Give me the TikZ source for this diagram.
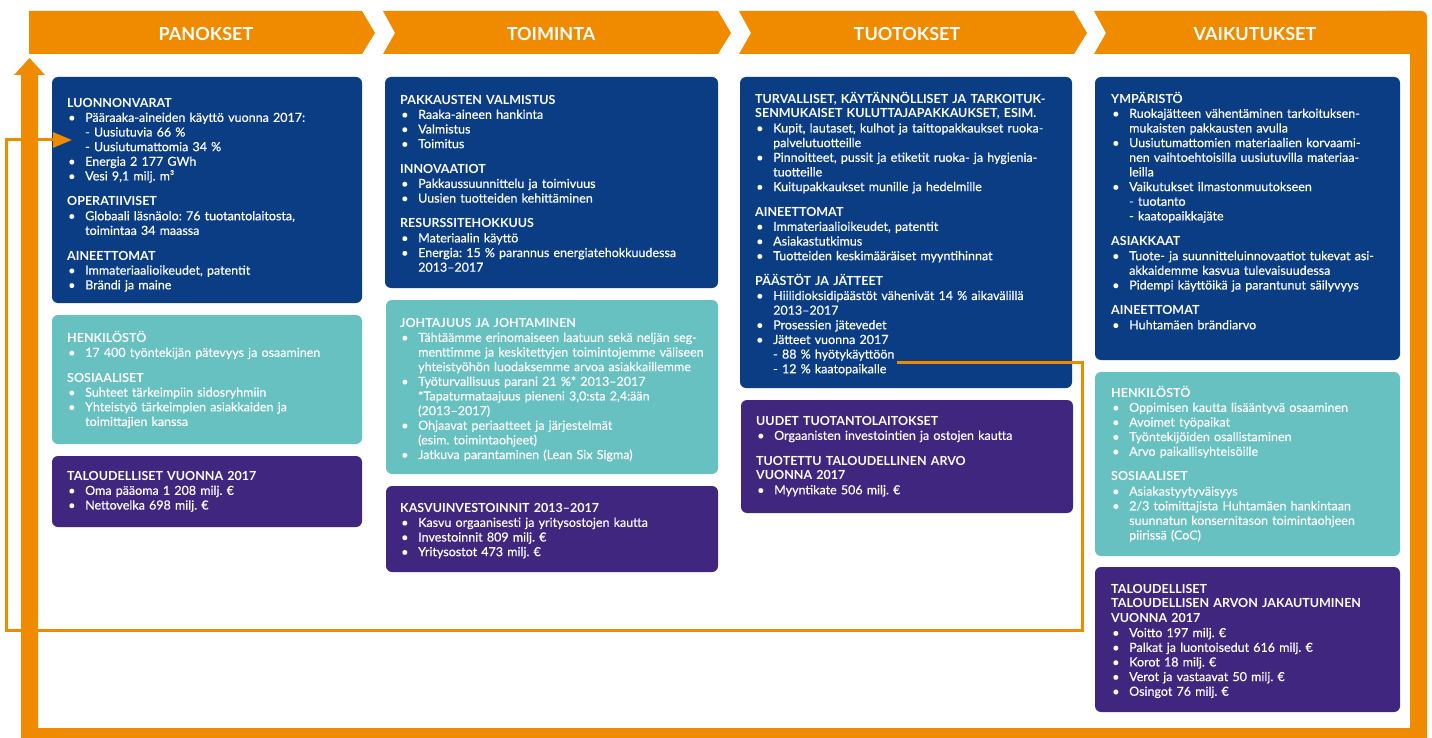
\documentclass[tikz,border=0pt]{standalone}
\usepackage{fontspec}
\setmainfont{Lato}[UprightFeatures={FakeBold=0.4}]
\usetikzlibrary{arrows.meta}
\frenchspacing
\definecolor{corange}{RGB}{240,139,0}
\definecolor{cblue}{RGB}{11,61,133}
\definecolor{cteal}{RGB}{103,193,192}
\definecolor{cpurple}{RGB}{64,38,127}
\newcommand\hd[1]{\noindent\mbox{\bfseries #1}\par}
\newcommand\bl[1]{\noindent\hbox to 18pt{\hskip1pt\textbullet\hss}\mbox{#1}\par}
\newcommand\cl[1]{\noindent\hskip18pt\mbox{#1}\par}
\newcommand\sg{\vskip10.5pt}
\newcommand\tst{\rule{0pt}{12pt}}
\tikzset{
  box/.style={rounded corners=6pt, draw=none, anchor=north west, inner sep=0pt, outer sep=0pt},
  txt/.style={anchor=north west, inner sep=0pt, text=white, text width=340pt, align=left,
    font=\fontsize{12.5}{14.65}\selectfont\frenchspacing},
  hdr/.style={text=white, inner sep=0pt, font=\fontsize{18}{20}\selectfont\bfseries},
  fb/.style={draw=corange, line width=3pt},
}
\begin{document}
\begin{tikzpicture}[x=1pt,y=-1pt]
\useasboundingbox (0,0) rectangle (1432,738);
% orange frame
\fill[corange] (29,11) -- (362,11) -- (375,33) -- (362,54) -- (29,54) -- cycle;
\fill[corange] (383,11) -- (718,11) -- (731,33) -- (718,54) -- (383,54) -- (395,33) -- cycle;
\fill[corange] (739,11) -- (1074,11) -- (1087,33) -- (1074,54) -- (739,54) -- (751,33) -- cycle;
\fill[corange] (1094,11) -- (1410,11) -- (1410,54) -- (1094,54) -- (1106,33) -- cycle;
\fill[corange, rounded corners=6pt] (1380,11) rectangle (1427,54);
\fill[corange] (1410,30) rectangle (1427,738);
\fill[corange] (21,728) rectangle (1427,738);
\fill[corange] (21,738) -- (21,75) -- (14,75) -- (29.5,58) -- (45,75) -- (38,75) -- (38,738) -- cycle;
\node[hdr] (h1) at (206,34) {PANOKSET};
\node[hdr] (h2) at (551,34) {TOIMINTA};
\node[hdr] (h3) at (907,34) {TUOTOKSET};
\node[hdr] (h4) at (1255,34) {VAIKUTUKSET};
% boxes
\node[box, fill=cblue, minimum width=310pt, minimum height=226pt] (a1) at (52,77) {};
\node[box, fill=cteal, minimum width=310pt, minimum height=129pt] (a2) at (52,315) {};
\node[box, fill=cpurple, minimum width=310pt, minimum height=71pt] (a3) at (52,456) {};
\node[box, fill=cblue, minimum width=333pt, minimum height=211pt] (b1) at (385,77) {};
\node[box, fill=cteal, minimum width=332pt, minimum height=174pt] (b2) at (386,300) {};
\node[box, fill=cpurple, minimum width=332pt, minimum height=86pt] (b3) at (386,486) {};
\node[box, fill=cblue, minimum width=332pt, minimum height=311pt] (c1) at (740,77) {};
\node[box, fill=cpurple, minimum width=332pt, minimum height=113pt] (c2) at (741,400) {};
\node[box, fill=cblue, minimum width=305pt, minimum height=283pt] (d1) at (1095,77) {};
\node[box, fill=cteal, minimum width=305pt, minimum height=184pt] (d2) at (1095,372) {};
\node[box, fill=cpurple, minimum width=305pt, minimum height=145pt] (d3) at (1095,567) {};
% texts
\node[txt] (a1t) at (67,95) {\hd{\tst LUONNONVARAT}
\bl{Pääraaka-aineiden käyttö vuonna 2017:}
\cl{- Uusiutuvia 66 \%}
\cl{- Uusiutumattomia 34 \%}
\bl{Energia 2 177 GWh}
\bl{Vesi 9,1 milj. m³}
\sg
\hd{OPERATIIVISET}
\bl{Globaali läsnäolo: 76 tuotantolaitosta,}
\cl{toimintaa 34 maassa}
\sg
\hd{AINEETTOMAT}
\bl{Immateriaalioikeudet, patentit}
\bl{Brändi ja maine}};
\node[txt] (a2t) at (67,330) {\hd{\tst HENKILÖSTÖ}
\bl{17 400 työntekijän pätevyys ja osaaminen}
\sg
\hd{SOSIAALISET}
\bl{Suhteet tärkeimpiin sidosryhmiin}
\bl{Yhteistyö tärkeimpien asiakkaiden ja}
\cl{toimittajien kanssa}};
\node[txt] (a3t) at (67,468) {\hd{\tst TALOUDELLISET VUONNA 2017}
\bl{Oma pääoma 1 208 milj. €}
\bl{Nettovelka 698 milj. €}};
\node[txt] (b1t) at (400,92) {\hd{\tst PAKKAUSTEN VALMISTUS}
\bl{Raaka-aineen hankinta}
\bl{Valmistus}
\bl{Toimitus}
\sg
\hd{INNOVAATIOT}
\bl{Pakkaussuunnittelu ja toimivuus}
\bl{Uusien tuotteiden kehittäminen}
\sg
\hd{RESURSSITEHOKKUUS}
\bl{Materiaalin käyttö}
\bl{Energia: 15 \% parannus energiatehokkuudessa}
\cl{2013–2017}};
\node[txt] (b2t) at (400,315) {\hd{\tst JOHTAJUUS JA JOHTAMINEN}
\bl{Tähtäämme erinomaiseen laatuun sekä neljän seg-}
\cl{menttimme ja keskitettyjen toimintojemme väliseen}
\cl{yhteistyöhön luodaksemme arvoa asiakkaillemme}
\bl{Työturvallisuus parani 21 \%* 2013–2017}
\cl{*Tapaturmataajuus pieneni 3,0:sta 2,4:ään}
\cl{(2013–2017)}
\bl{Ohjaavat periaatteet ja järjestelmät}
\cl{(esim. toimintaohjeet)}
\bl{Jatkuva parantaminen (Lean Six Sigma)}};
\node[txt] (b3t) at (400,500) {\hd{\tst KASVUINVESTOINNIT 2013–2017}
\bl{Kasvu orgaanisesti ja yritysostojen kautta}
\bl{Investoinnit 809 milj. €}
\bl{Yritysostot 473 milj. €}};
\node[txt] (c1t) at (755,91) {\hd{\tst TURVALLISET, KÄYTÄNNÖLLISET JA TARKOITUK-}
\hd{SENMUKAISET KULUTTAJAPAKKAUKSET, ESIM.}
\bl{Kupit, lautaset, kulhot ja taittopakkaukset ruoka-}
\cl{palvelutuotteille}
\bl{Pinnoitteet, pussit ja etiketit ruoka- ja hygienia-}
\cl{tuotteille}
\bl{Kuitupakkaukset munille ja hedelmille}
\sg
\hd{AINEETTOMAT}
\bl{Immateriaalioikeudet, patentit}
\bl{Asiakastutkimus}
\bl{Tuotteiden keskimääräiset myyntihinnat}
\sg
\hd{PÄÄSTÖT JA JÄTTEET}
\bl{Hiilidioksidipäästöt vähenivät 14 \% aikavälillä}
\cl{2013–2017}
\bl{Prosessien jätevedet}
\bl{Jätteet vuonna 2017}
\cl{- 88 \% hyötykäyttöön}
\cl{- 12 \% kaatopaikalle}};
\node[txt] (c2t) at (756,413) {\hd{\tst UUDET TUOTANTOLAITOKSET}
\bl{Orgaanisten investointien ja ostojen kautta}
\sg
\hd{TUOTETTU TALOUDELLINEN ARVO}
\hd{VUONNA 2017}
\bl{Myyntikate 506 milj. €}};
\node[txt] (d1t) at (1111,91) {\hd{\tst YMPÄRISTÖ}
\bl{Ruokajätteen vähentäminen tarkoituksen-}
\cl{mukaisten pakkausten avulla}
\bl{Uusiutumattomien materiaalien korvaami-}
\cl{nen vaihtoehtoisilla uusiutuvilla materiaa-}
\cl{leilla}
\bl{Vaikutukset ilmastonmuutokseen}
\cl{- tuotanto}
\cl{- kaatopaikkajäte}
\sg
\hd{ASIAKKAAT}
\bl{Tuote- ja suunnitteluinnovaatiot tukevat asi-}
\cl{akkaidemme kasvua tulevaisuudessa}
\bl{Pidempi käyttöikä ja parantunut säilyvyys}
\sg
\hd{AINEETTOMAT}
\bl{Huhtamäen brändiarvo}};
\node[txt] (d2t) at (1111,385) {\hd{\tst HENKILÖSTÖ}
\bl{Oppimisen kautta lisääntyvä osaaminen}
\bl{Avoimet työpaikat}
\bl{Työntekijöiden osallistaminen}
\bl{Arvo paikallisyhteisöille}
\sg
\hd{SOSIAALISET}
\bl{Asiakastyytyväisyys}
\bl{2/3 toimittajista Huhtamäen hankintaan}
\cl{suunnatun konsernitason toimintaohjeen}
\cl{piirissä (CoC)}};
\node[txt] (d3t) at (1111,581) {\hd{\tst TALOUDELLISET}
\hd{TALOUDELLISEN ARVON JAKAUTUMINEN}
\hd{VUONNA 2017}
\bl{Voitto 197 milj. €}
\bl{Palkat ja luontoisedut 616 milj. €}
\bl{Korot 18 milj. €}
\bl{Verot ja vastaavat 50 milj. €}
\bl{Osingot 76 milj. €}};
% feedback line
\coordinate (fbs) at (897,362);
\coordinate (fbe) at (72,140);
\draw[fb, -{Triangle[length=19pt,width=15pt]}] (fbs) -- (1082,362) -- (1082,630) -- (6.5,630) -- (6.5,140) -- (fbe);
\end{tikzpicture}
\end{document}
